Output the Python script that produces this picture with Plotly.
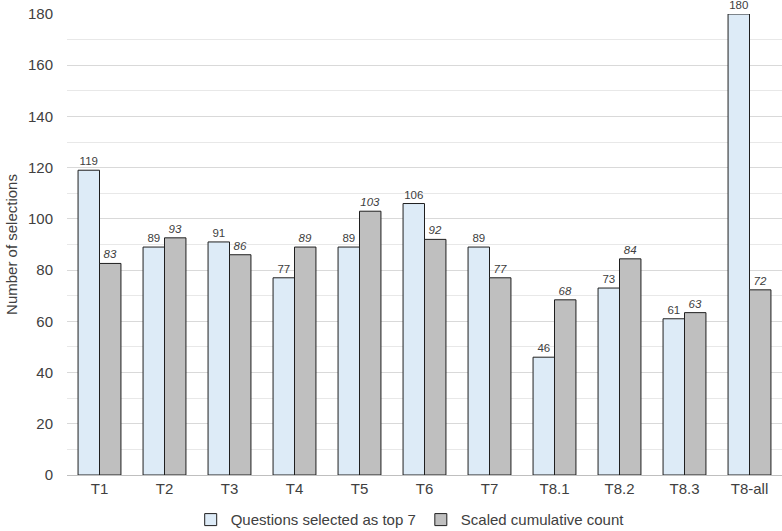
import plotly.graph_objs as go

categories = ['T1', 'T2', 'T3', 'T4', 'T5', 'T6', 'T7', 'T8.1', 'T8.2', 'T8.3', 'T8-all']
top7 = [119, 89, 91, 77, 89, 106, 89, 46, 73, 61, 180]
scaled = [82.6, 92.6, 86.0, 89.0, 103.0, 92.0, 77.0, 68.4, 84.4, 63.4, 72.3]

font = 'Liberation Sans, Arial, sans-serif'

fig = go.Figure()

fig.add_trace(go.Bar(
    name='Questions selected as top 7',
    x=categories,
    y=top7,
    marker=dict(color='#DDEBF7', line=dict(color='#1f1f1f', width=1)),
    texttemplate='%{y:.0f}',
    textposition='outside',
    textfont=dict(size=11.5, color='#404040', family=font),
    cliponaxis=False
))

fig.add_trace(go.Bar(
    name='Scaled cumulative count',
    x=categories,
    y=scaled,
    marker=dict(color='#BFBFBF', line=dict(color='#1f1f1f', width=1)),
    texttemplate='<i>%{y:.0f}</i>',
    textposition='outside',
    textfont=dict(size=11.5, color='#404040', family=font),
    cliponaxis=False
))

fig.update_layout(
    width=782, height=531,
    margin=dict(l=67, r=0, t=14, b=56, autoexpand=False),
    paper_bgcolor='white',
    plot_bgcolor='white',
    barmode='group',
    bargap=0.34,
    bargroupgap=0,
    font=dict(family=font, color='#404040', size=15),
    showlegend=True,
    legend=dict(orientation='h', x=0.48, xanchor='center', yref='container', y=0.021, yanchor='middle',
                font=dict(size=15, color='#404040'), itemwidth=30),
    xaxis=dict(showline=True, linecolor='#bfbfbf', linewidth=1, ticks='',
               tickfont=dict(size=15, color='#404040')),
    yaxis=dict(range=[0, 180], dtick=20, showgrid=True, gridcolor='#d9d9d9',
               zeroline=False, showline=False, ticks='outside', ticklen=10, tickcolor='rgba(0,0,0,0)',
               tickfont=dict(size=15, color='#404040'),
               minor=dict(dtick=10, showgrid=True, gridcolor='#e8e8e8'),
               title=dict(text='Number of selections', font=dict(size=15, color='#404040'),
                          standoff=6)),
)

# drop the page's default body margin so the figure sits at the window's corner
fig.write_html('out.html', config={'displayModeBar': False},
               post_script="document.body.style.margin='0';")
